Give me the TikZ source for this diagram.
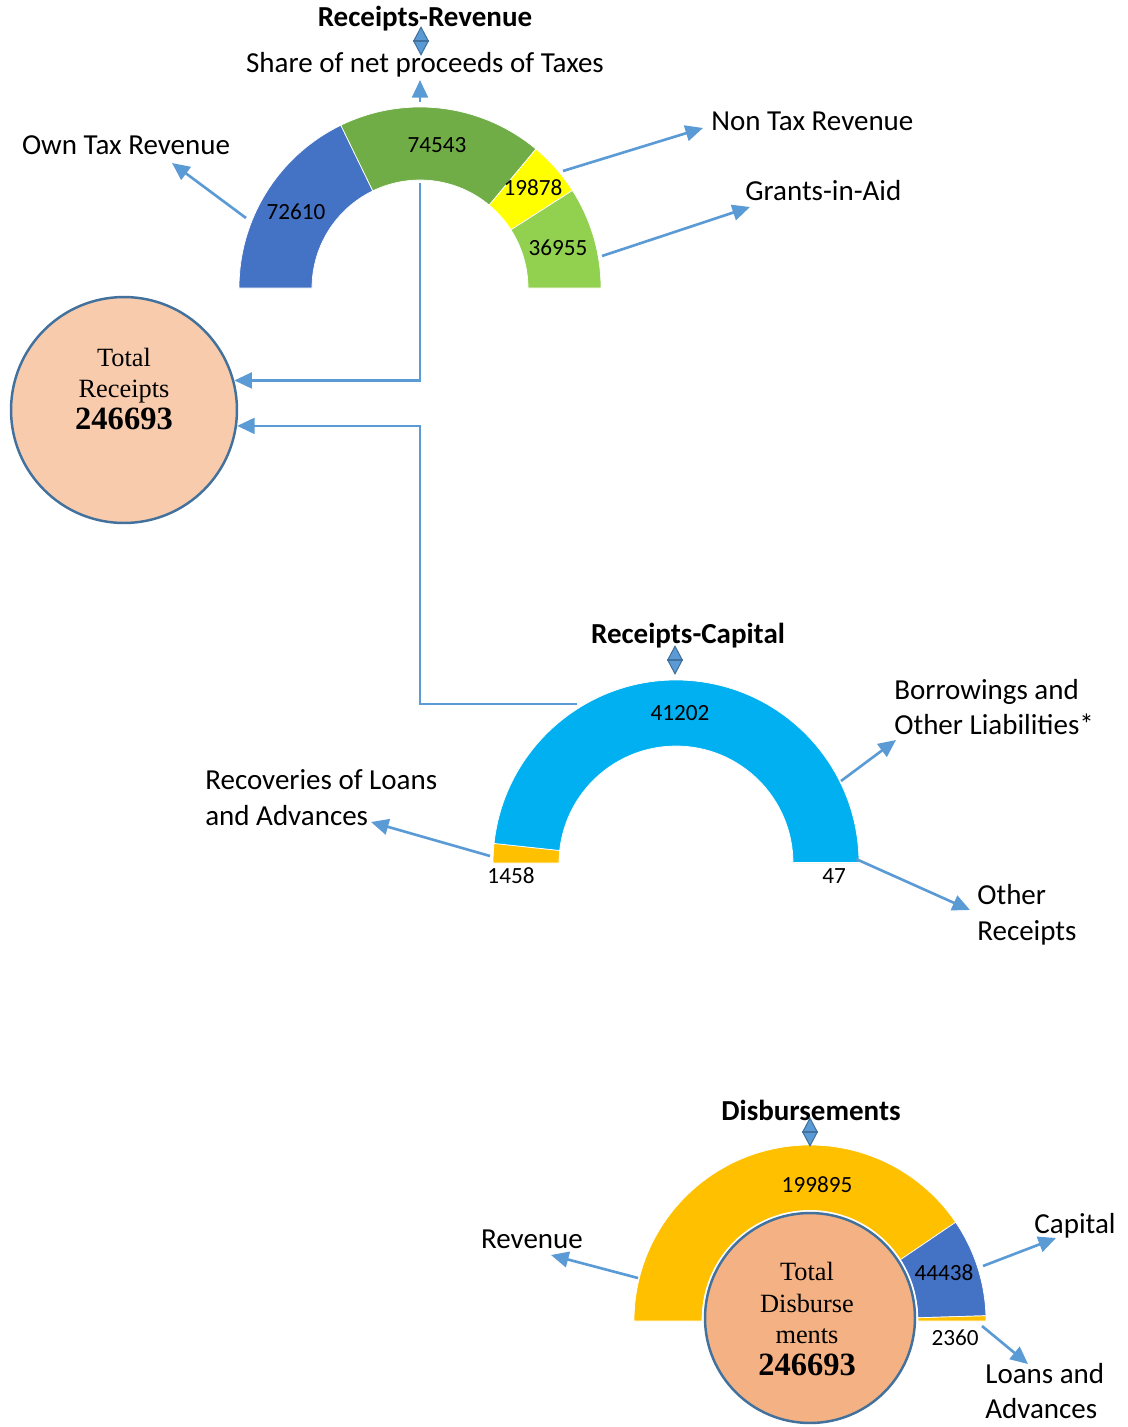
\documentclass[tikz,border=0pt]{standalone}
\usepackage{fontspec}
\setmainfont{Carlito}
\newfontfamily\timesfont{Liberation Serif}
\usepackage{tikz}
\usetikzlibrary{arrows.meta,calc,shapes.geometric}
\definecolor{arrowblue}{HTML}{5B9BD5}
\definecolor{rimblue}{HTML}{41719C}
\definecolor{segblue}{HTML}{4472C4}
\definecolor{seggreen}{HTML}{70AD47}
\definecolor{segyellow}{HTML}{FFFF00}
\definecolor{seglime}{HTML}{92D050}
\definecolor{segcyan}{HTML}{00B0F0}
\definecolor{segorange}{HTML}{FFC000}
\definecolor{totalfill}{HTML}{F8CBAD}
\definecolor{disbfill}{HTML}{F4B183}
% one ring piece: centre, inner radius, outer radius, from angle, to angle, colour
\newcommand{\gaugeseg}[6]{%
  \fill[#6,draw=white,line width=0.4pt] ($(#1)+(#4:#3)$) arc[start angle=#4,end angle=#5,radius=#3]
    -- ($(#1)+(#5:#2)$) arc[start angle=#5,end angle=#4,radius=#2] -- cycle;}

\begin{document}
\begin{tikzpicture}[x=0.02cm,y=0.02cm,
  lbl/.style={font=\fontsize{16.5}{20.4}\selectfont,align=left,inner sep=0pt},
  val/.style={font=\fontsize{13.2}{15}\selectfont,inner sep=0pt},
  ttl/.style={font=\fontsize{16.5}{20}\selectfont\bfseries,inner sep=0pt},
  link/.style={draw=arrowblue,line width=1.5pt,-{Triangle[length=10pt,width=9pt]}},
  diamondmark/.style={diamond,fill=arrowblue,draw=rimblue,line width=0.6pt,
    minimum width=0.3cm,minimum height=0.56cm,inner sep=0pt},
  totalcircle/.style={circle,draw=rimblue,line width=1.4pt,inner sep=0pt},
  totaltext/.style={font=\timesfont\fontsize{15}{18.2}\selectfont,align=center,inner sep=0pt}]
\useasboundingbox (0,0) rectangle (1128,-1427);

% gauge centres
\coordinate (rev) at (420,-288);
\coordinate (cap) at (676,-863);
\coordinate (disb) at (810,-1321);

% receipts - revenue
\gaugeseg{rev}{108}{181}{180}{115.93}{segblue}
\gaugeseg{rev}{108}{181}{115.93}{50.15}{seggreen}
\gaugeseg{rev}{108}{181}{50.15}{32.61}{segyellow}
\gaugeseg{rev}{108}{181}{32.61}{0}{seglime}
\node[val] (v72610) at (296,-212) {72610};
\node[val] (v74543) at (437,-145) {74543};
\node[val] (v19878) at (533,-188) {19878};
\node[val] (v36955) at (558,-248) {36955};

\node[ttl] (revtitle) at (425,-19) {Receipts-Revenue};
\node[diamondmark] (revmark) at (421,-41) {};
\draw[rimblue,line width=0.6pt] (revmark.west) -- (revmark.east);
\node[lbl] (share) at (425,-65) {Share of net proceeds of Taxes};
\node[lbl] (owntax) at (126,-145) {Own Tax Revenue};
\node[lbl,anchor=west] (nontax) at (711,-121) {Non Tax Revenue};
\node[lbl,anchor=west] (grants) at (745,-191) {Grants-in-Aid};

\coordinate (shareout) at (420,-102);
\coordinate (sharetip) at (420,-80);
\coordinate (ownout) at (246,-218);
\coordinate (owntip) at (172,-163);
\coordinate (nontaxout) at (563,-171);
\coordinate (nontaxtip) at (703,-128);
\coordinate (grantsout) at (602,-256);
\coordinate (grantstip) at (750,-207);
\draw[link] (shareout) -- (sharetip);
\draw[link] (ownout) -- (owntip);
\draw[link] (nontaxout) -- (nontaxtip);
\draw[link] (grantsout) -- (grantstip);

% total receipts
\node[totalcircle,fill=totalfill,minimum size=4.52cm] (totrec) at (124,-410) {};
\node[totaltext] (totrectxt) at (124,-389)
  {Total\\Receipts\\\fontsize{18.5}{18.5}\selectfont\bfseries 246693};

\coordinate (revstem) at (420,-183);
\draw[link] (revstem) |- (totrec.15);

% receipts - capital
\gaugeseg{cap}{117}{183}{180}{173.85}{segorange}
\gaugeseg{cap}{117}{183}{173.85}{0.2}{segcyan}
\gaugeseg{cap}{117}{183}{0.2}{0}{seggreen}
\node[val] (v41202) at (680,-713) {41202};
\node[val] (v1458) at (511,-876) {1458};
\node[val] (v47) at (834,-876) {47};

\node[ttl] (captitle) at (688,-636) {Receipts-Capital};
\node[diamondmark] (capmark) at (675,-660) {};
\draw[rimblue,line width=0.6pt] (capmark.west) -- (capmark.east);

\coordinate (capstem) at (577,-704);
\draw[link] (capstem) -- (capstem -| revstem) |- (totrec.-8);

\node[lbl,anchor=west] (borrow) at (894,-707) {Borrowings and\\Other Liabilities*};
\node[lbl,anchor=west] (recover) at (205,-798) {Recoveries of Loans\\and Advances};
\node[lbl,anchor=west] (otherrec) at (977,-915) {Other\\Receipts};

\coordinate (borrowout) at (841,-781);
\coordinate (borrowtip) at (896,-740);
\coordinate (recoverout) at (490,-856);
\coordinate (recovertip) at (371,-822);
\coordinate (otherout) at (856,-859);
\coordinate (othertip) at (970,-910);
\draw[link] (borrowout) -- (borrowtip);
\draw[link] (recoverout) -- (recovertip);
\draw[link] (otherout) -- (othertip);

% disbursements
\gaugeseg{disb}{108}{176}{180}{34.14}{segorange}
\gaugeseg{disb}{108}{176}{34.14}{1.72}{segblue}
\gaugeseg{disb}{108}{176}{1.72}{0}{segorange}
\node[val] (v199895) at (817,-1185) {199895};
\node[val] (v44438) at (944,-1273) {44438};
\node[val] (v2360) at (955,-1338) {2360};

\node[ttl] (disbtitle) at (811,-1110) {Disbursements};
\node[diamondmark] (disbmark) at (810,-1132) {};
\draw[rimblue,line width=0.6pt] (disbmark.west) -- (disbmark.east);

\fill[white] (810,-1318) circle (108);
\node[totalcircle,fill=disbfill,minimum size=4.2cm] (totdisb) at (810,-1318) {};
\node[totaltext] (totdisbtxt) at (807,-1319)
  {Total\\Disburse\\ments\\\fontsize{18.5}{18.5}\selectfont\bfseries 246693};

\node[lbl] (revenue) at (532,-1239) {Revenue};
\node[lbl] (capital) at (1075,-1226) {Capital};
\node[lbl,anchor=west] (loans) at (985,-1391) {Loans and\\Advances};

\coordinate (revenueout) at (638,-1278);
\coordinate (revenuetip) at (551,-1255);
\coordinate (capitalout) at (983,-1266);
\coordinate (capitaltip) at (1056,-1238);
\coordinate (loansout) at (982,-1326);
\coordinate (loanstip) at (1028,-1364);
\draw[link] (revenueout) -- (revenuetip);
\draw[link] (capitalout) -- (capitaltip);
\draw[link] (loansout) -- (loanstip);
\end{tikzpicture}
\end{document}
